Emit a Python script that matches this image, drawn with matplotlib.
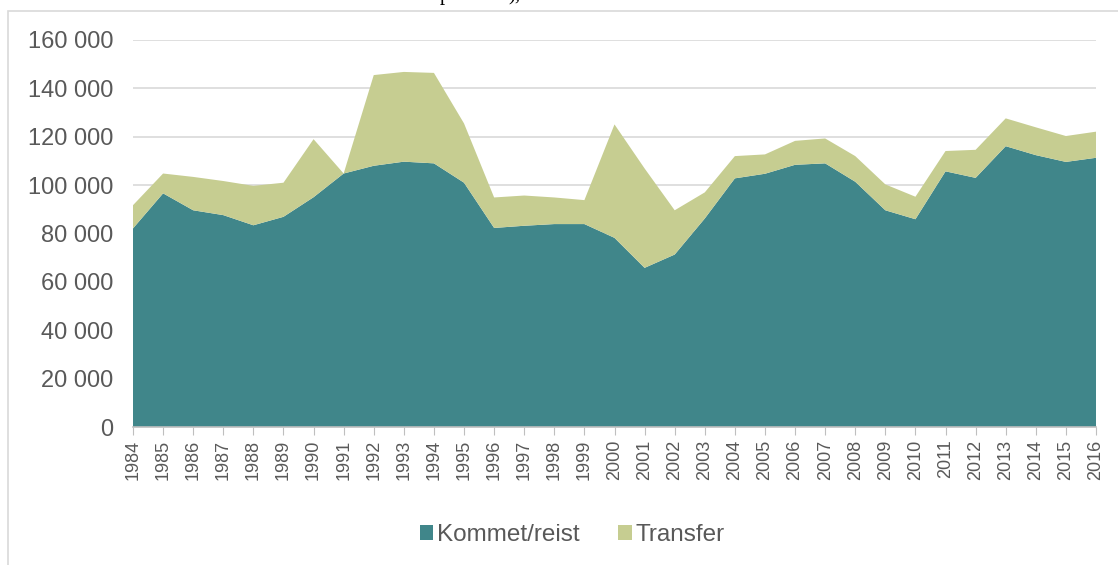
import numpy as np
import matplotlib
matplotlib.use("Agg")
import matplotlib.pyplot as plt
from matplotlib.patches import Rectangle
from matplotlib.ticker import FuncFormatter

# Data
years = list(range(1984, 2017))
kommet = [82100, 96600, 89600, 87600, 83400, 86900, 95000, 104800, 108000, 109700,
          109000, 101000, 82300, 83200, 83900, 83900, 78200, 65800, 71300, 86200,
          102800, 104700, 108400, 109000, 101400, 89600, 85900, 105700, 103000, 116100,
          112400, 109600, 111300]
total = [91700, 104800, 103400, 101700, 99700, 101000, 119000, 104800, 145500, 146800,
         146400, 125500, 94900, 95700, 94900, 93800, 125100, 106900, 89600, 97000,
         112000, 112700, 118300, 119300, 112000, 100300, 95200, 114100, 114600, 127600,
         123900, 120300, 122100]
transfer = [t - k for t, k in zip(total, kommet)]

teal = '#40868A'
olive = '#C6CD91'
grey_txt = '#595959'

plt.rcParams['font.family'] = ['Liberation Sans', 'DejaVu Sans']

fig = plt.figure(figsize=(11.18, 5.65), dpi=100)
ax = fig.add_axes([133/1118, 1 - 427/565, (1096 - 133)/1118, (427 - 40)/565])

x = np.arange(len(years))
ax.stackplot(x, kommet, transfer, colors=[teal, olive],
             labels=['Kommet/reist', 'Transfer'], linewidth=0)

ax.set_xlim(0, len(years) - 1)
ax.set_ylim(0, 160000)
ax.set_yticks(np.arange(0, 160001, 20000))
ax.yaxis.set_major_formatter(FuncFormatter(lambda v, p: f"{int(v):,}".replace(",", " ")))
ax.set_xticks(x)
ax.set_xticklabels([str(y) for y in years], rotation=90)

ax.grid(axis='y', color='#D9D9D9', linewidth=1.2)
ax.set_axisbelow(True)
for s in ['left', 'right', 'top']:
    ax.spines[s].set_visible(False)
ax.spines['bottom'].set_color('#BFBFBF')
ax.spines['bottom'].set_linewidth(1.2)
ax.tick_params(axis='y', length=0, pad=14, labelsize=17, labelcolor=grey_txt)
ax.tick_params(axis='x', length=6, color='#BFBFBF', pad=3, labelsize=13,
               labelcolor=grey_txt)

leg = fig.legend(loc='center', bbox_to_anchor=(572/1118, 1 - 535/565), ncol=2,
                 frameon=False, fontsize=17.5, handlelength=0.55, handleheight=0.55,
                 handletextpad=0.15, columnspacing=1.6)
for t in leg.get_texts():
    t.set_color(grey_txt)

# outer chart frame (partly outside the picture)
fig.patches.append(Rectangle((8/1118, -0.1), 1.2, 1 - 11/565 + 0.1,
                             transform=fig.transFigure, fill=False,
                             edgecolor='#D9D9D9', linewidth=1.2))

# cut-off document text above the chart
fig.text(440/1118, 1.0, "p", family='Liberation Serif', fontsize=15,
         va='baseline', color='black')
fig.text(508/1118, 1.0, "),", family='Liberation Serif', fontsize=15,
         va='baseline', color='black')

fig.savefig('out.png', dpi=100)
